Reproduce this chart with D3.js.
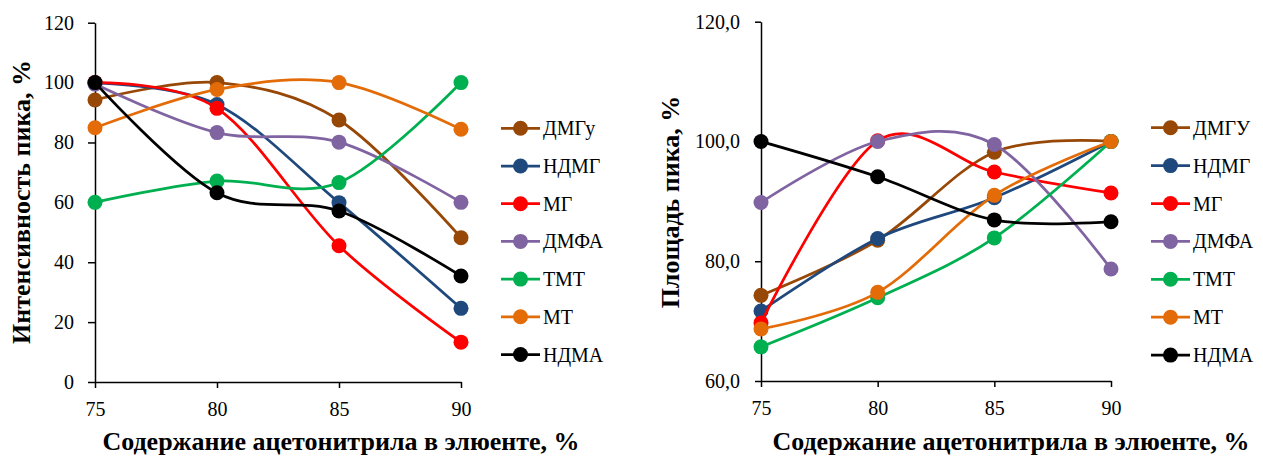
<!DOCTYPE html>
<html>
<head>
    <meta charset="utf-8">
    <title>Интенсивность и площадь пика</title>
    <script src="https://d3js.org/d3.v7.min.js"></script>
    <style>
        body {
            margin: 0;
            background: #fff;
            font-family: 'Liberation Serif', Tinos, 'Noto Serif', 'DejaVu Serif', serif;
        }
        .axis path, .axis line {
            stroke: #000;
            stroke-width: 1.5px;
        }
    </style>
</head>
<body>
    <div id="chart"></div>
    <script>
        // x: acetonitrile content in eluent, %
        const xValues = [75, 80, 85, 90];

        const seriesColors = ["#974706", "#1f497d", "#ff0000", "#8064a2", "#00b050", "#e36c09", "#000000"];

        // left chart: peak intensity, %
        const intensityNames = ["ДМГу", "НДМГ", "МГ", "ДМФА", "ТМТ", "МТ", "НДМА"];
        const intensityValues = [
            [94.2, 100, 87.5, 48.2],   // ДМГу
            [99.8, 92.7, 59.9, 24.6],  // НДМГ
            [100, 91.4, 45.5, 13.3],   // МГ
            [99.5, 83.3, 80.1, 60.0],  // ДМФА
            [60.0, 67.1, 66.6, 100],   // ТМТ
            [84.9, 97.7, 100, 84.4],   // МТ
            [100, 63.2, 57.1, 35.4]    // НДМА
        ];
        const intensityTicks = [0, 20, 40, 60, 80, 100, 120];

        // right chart: peak area, %
        const areaNames = ["ДМГУ", "НДМГ", "МГ", "ДМФА", "ТМТ", "МТ", "НДМА"];
        const areaValues = [
            [74.3, 83.5, 98.2, 100],   // ДМГУ
            [71.7, 83.8, 90.6, 100],   // НДМГ
            [69.7, 100.1, 94.9, 91.4], // МГ
            [89.8, 100, 99.5, 78.7],   // ДМФА
            [65.7, 73.9, 83.9, 100],   // ТМТ
            [68.7, 74.8, 91.0, 100],   // МТ
            [100, 94.1, 86.9, 86.6]    // НДМА
        ];
        const areaTicks = [60, 80, 100, 120];

        const xTitle = "Содержание ацетонитрила в элюенте, %";
        const serif = "'Liberation Serif', Tinos, 'Noto Serif', 'DejaVu Serif', serif";

        const svg = d3.select("#chart")
            .append("svg")
            .attr("width", 1263)
            .attr("height", 456)
            .attr("font-family", serif);

        function drawChart(cfg) {
            const g = svg.append("g");

            const x = d3.scaleLinear().domain([75, 90]).range([cfg.left, cfg.right]);
            const y = d3.scaleLinear().domain(cfg.yDomain).range([cfg.bottom, cfg.top]);

            // axes
            const xAxis = g.append("g")
                .attr("class", "axis")
                .attr("transform", `translate(0,${cfg.bottom})`)
                .call(d3.axisBottom(x).tickValues(xValues).tickSize(6).tickSizeOuter(0).tickPadding(14).tickFormat(d3.format("d")));

            const yAxis = g.append("g")
                .attr("class", "axis")
                .attr("transform", `translate(${cfg.left},0)`)
                .call(d3.axisLeft(y).tickValues(cfg.yTicks).tickSize(cfg.yTickSize).tickSizeOuter(0)
                    .tickPadding(cfg.yPad).tickFormat(cfg.yFormat));

            [xAxis, yAxis].forEach(a => a.attr("font-family", serif).attr("font-size", 20)
                .selectAll("text").style("font-family", serif).attr("fill", "#000"));

            // series (smoothed like the spreadsheet)
            const line = d3.line()
                .x((d, i) => x(xValues[i]))
                .y(d => y(d))
                .curve(d3.curveCardinal.tension(0));

            cfg.values.forEach((vals, s) => {
                const sg = g.append("g");
                sg.append("path")
                    .attr("d", line(vals))
                    .attr("fill", "none")
                    .attr("stroke", seriesColors[s])
                    .attr("stroke-width", 2.75);
                sg.selectAll("circle")
                    .data(vals)
                    .enter()
                    .append("circle")
                    .attr("cx", (d, i) => x(xValues[i]))
                    .attr("cy", d => y(d))
                    .attr("r", 7.5)
                    .attr("fill", seriesColors[s]);
            });

            // legend
            const legend = g.append("g");
            cfg.names.forEach((name, s) => {
                const ly = cfg.legendTop + s * cfg.legendStep;
                legend.append("line")
                    .attr("x1", cfg.legendX)
                    .attr("x2", cfg.legendX + 39)
                    .attr("y1", ly)
                    .attr("y2", ly)
                    .attr("stroke", seriesColors[s])
                    .attr("stroke-width", 2.75);
                legend.append("circle")
                    .attr("cx", cfg.legendX + 19.5)
                    .attr("cy", ly)
                    .attr("r", 7.5)
                    .attr("fill", seriesColors[s]);
                legend.append("text")
                    .attr("x", cfg.legendX + 42)
                    .attr("y", ly + 7)
                    .style("font-family", serif)
                    .style("font-size", "20px")
                    .text(name);
            });

            // titles
            g.append("text")
                .attr("text-anchor", "middle")
                .attr("x", cfg.xTitleX)
                .attr("y", 450)
                .style("font-family", serif)
                .style("font-size", "26px")
                .style("font-weight", "bold")
                .text(xTitle);

            g.append("text")
                .attr("text-anchor", "middle")
                .attr("transform", `translate(${cfg.yTitleX},202) rotate(-90)`)
                .style("font-family", serif)
                .style("font-size", "26px")
                .style("font-weight", "bold")
                .text(cfg.yTitle);
        }

        drawChart({
            left: 95, right: 461, top: 22.7, bottom: 382,
            yDomain: [0, 120], yTicks: intensityTicks, yFormat: d3.format("d"),
            yTickSize: 7, yPad: 14,
            values: intensityValues, names: intensityNames,
            legendX: 501, legendTop: 128.3, legendStep: 37.7,
            xTitleX: 341, yTitleX: 30, yTitle: "Интенсивность пика, %"
        });

        drawChart({
            left: 761, right: 1111, top: 21.7, bottom: 381,
            yDomain: [60, 120], yTicks: areaTicks, yFormat: d => d3.format(".1f")(d).replace(".", ","),
            yTickSize: 6, yPad: 15,
            values: areaValues, names: areaNames,
            legendX: 1151, legendTop: 127.7, legendStep: 37.9,
            xTitleX: 1011, yTitleX: 679, yTitle: "Площадь пика, %"
        });
    </script>
</body>
</html>
